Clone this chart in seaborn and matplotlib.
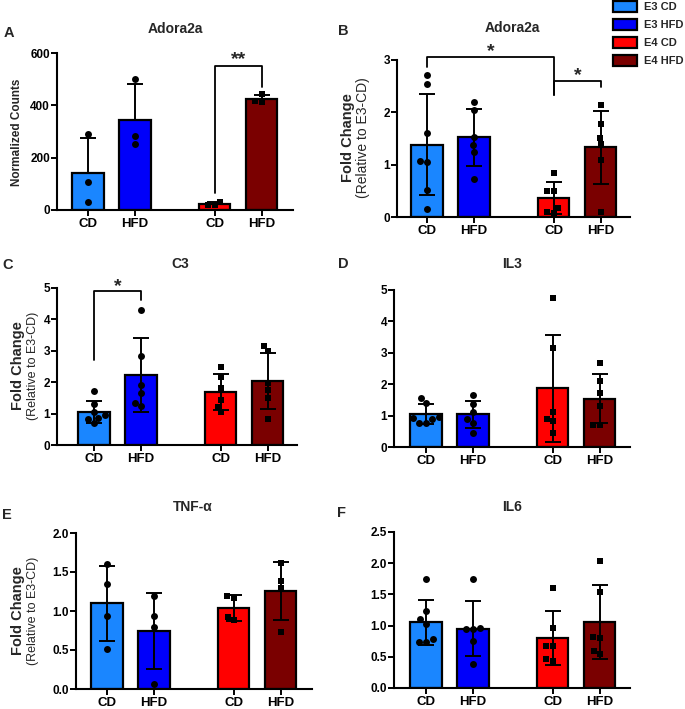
import numpy as np
import pandas as pd
import matplotlib
matplotlib.use("Agg")
import matplotlib.pyplot as plt
import seaborn as sns
from matplotlib.patches import Patch
from matplotlib.ticker import FormatStrFormatter

sns.set_style("ticks")
plt.rcParams["font.family"] = ["Liberation Sans", "DejaVu Sans"]

# ---------------- data ----------------
groups = ["E3 CD", "E3 HFD", "E4 CD", "E4 HFD"]
tick_labels = ["CD", "HFD", "CD", "HFD"]
colors = ["#1A86FF", "#0000FA", "#FF0000", "#7A0000"]

# A: Adora2a, normalized counts
a_e3_cd = [290, 108, 29]
a_e3_hfd = [500, 283, 253]
a_e4_cd = [32, 19, 18]
a_e4_hfd = [442, 418, 414]

# B: Adora2a, fold change
b_e3_cd = [2.71, 2.54, 1.60, 1.055, 1.07, 0.52, 0.16]
b_e3_hfd = [2.19, 2.05, 1.53, 1.38, 1.25, 0.73]
b_e4_cd = [0.85, 0.50, 0.50, 0.18, 0.08, 0.09]
b_e4_hfd = [2.14, 1.77, 1.51, 1.39, 1.09, 0.10]

# C: C3
c_e3_cd = [1.71, 1.31, 0.97, 1.06, 0.69, 0.87, 0.82]
c_e3_hfd = [4.31, 2.84, 1.91, 1.67, 1.24, 1.35]
c_e4_cd = [2.49, 2.17, 1.83, 1.42, 1.22, 1.04]
c_e4_hfd = [3.15, 2.99, 1.96, 1.74, 1.50, 0.82]

# D: IL3
d_e3_cd = [1.56, 1.41, 0.77, 0.93, 0.78, 0.90, 0.95]
d_e3_hfd = [1.65, 1.38, 1.12, 0.90, 0.78, 0.45]
d_e4_cd = [4.76, 3.15, 1.12, 0.90, 0.82, 0.43]
d_e4_hfd = [2.66, 2.09, 1.73, 1.30, 0.71, 0.71]

# E: TNF-alpha
e_e3_cd = [1.60, 1.35, 0.93, 0.51]
e_e3_hfd = [1.19, 0.94, 0.80, 0.06]
e_e4_cd = [1.17, 1.19, 0.88, 0.92]
e_e4_hfd = [1.61, 1.39, 1.29, 0.73]

# F: IL6
f_e3_cd = [1.75, 1.24, 1.10, 1.03, 0.78, 0.73, 0.74]
f_e3_hfd = [1.74, 0.96, 0.95, 0.94, 0.75, 0.38]
f_e4_cd = [1.60, 0.96, 0.68, 0.68, 0.46, 0.43]
f_e4_hfd = [2.03, 1.54, 0.80, 0.82, 0.59, 0.55]

titles = ["Adora2a", "Adora2a", "C3", "IL3", "TNF-\u03b1", "IL6"]
letters = ["A", "B", "C", "D", "E", "F"]
y_ticks_A = [0, 200, 400, 600]
y_ticks_B = [0, 1, 2, 3]
y_ticks_CD = [0, 1, 2, 3, 4, 5]
y_ticks_E = [0.0, 0.5, 1.0, 1.5, 2.0]
y_ticks_F = [0.0, 0.5, 1.0, 1.5, 2.0, 2.5]

# ---------------- layout ----------------
W, H = 685, 709
xpos = [0, 1, 2.7, 3.7]
PXU = 47.0  # pixels per x unit

fig = plt.figure(figsize=(W / 100, H / 100), dpi=100)

def make_ax(axis_x, bar0_x, end_x, ytop, ybot):
    ax = fig.add_axes([axis_x / W, 1 - ybot / H, (end_x - axis_x) / W, (ybot - ytop) / H])
    return ax

panels = [
    dict(data=[a_e3_cd, a_e3_hfd, a_e4_cd, a_e4_hfd], ticks=y_ticks_A, fmt=None,
         geom=(57, 88, 293, 53, 210), up_only=True),
    dict(data=[b_e3_cd, b_e3_hfd, b_e4_cd, b_e4_hfd], ticks=y_ticks_B, fmt=None,
         geom=(397, 427, 630, 60, 217), up_only=False),
    dict(data=[c_e3_cd, c_e3_hfd, c_e4_cd, c_e4_hfd], ticks=y_ticks_CD, fmt=None,
         geom=(57, 94, 297, 288, 445), up_only=False),
    dict(data=[d_e3_cd, d_e3_hfd, d_e4_cd, d_e4_hfd], ticks=y_ticks_CD, fmt=None,
         geom=(394, 426, 630, 290, 447), up_only=False),
    dict(data=[e_e3_cd, e_e3_hfd, e_e4_cd, e_e4_hfd], ticks=y_ticks_E, fmt="%.1f",
         geom=(76, 107, 312, 533, 689), up_only=False),
    dict(data=[f_e3_cd, f_e3_hfd, f_e4_cd, f_e4_hfd], ticks=y_ticks_F, fmt="%.1f",
         geom=(394, 426, 630, 532, 688), up_only=False),
]

palette = dict(zip(groups, colors))
axes = []
for p, title in zip(panels, titles):
    ax = make_ax(*p["geom"])
    axes.append(ax)
    rows = []
    for g, x, vals in zip(groups, xpos, p["data"]):
        for v in vals:
            rows.append(dict(group=g, pos=x, value=v))
    df = pd.DataFrame(rows)
    sns.barplot(data=df, x="pos", y="value", hue="group", palette=palette,
                native_scale=True, dodge=False, errorbar=None, width=0.66,
                saturation=1, edgecolor="black", linewidth=1.6, legend=False,
                ax=ax, zorder=1)
    means = df.groupby("pos")["value"].mean().values
    sds = df.groupby("pos")["value"].std().values
    lower = np.zeros_like(sds) if p["up_only"] else sds
    ax.errorbar(sorted(df["pos"].unique()), means, yerr=[lower, sds], fmt="none",
                ecolor="black", elinewidth=1.4, capsize=6, capthick=1.4, zorder=3)
    e3 = df[df["group"].str.startswith("E3")]
    e4 = df[df["group"].str.startswith("E4")]
    sns.swarmplot(data=e3, x="pos", y="value", native_scale=True, color="black",
                  marker="o", size=5, ax=ax, zorder=4)
    sns.swarmplot(data=e4, x="pos", y="value", native_scale=True, color="black",
                  marker="s", size=4.6, ax=ax, zorder=4)
    axis_x, bar0_x, end_x, ytop, ybot = p["geom"]
    ax.set_xlim((axis_x - bar0_x) / PXU, (end_x - bar0_x) / PXU)
    ax.set_ylim(p["ticks"][0], p["ticks"][-1])
    ax.set_yticks(p["ticks"])
    if p["fmt"]:
        ax.yaxis.set_major_formatter(FormatStrFormatter(p["fmt"]))
    ax.set_xticks(xpos)
    ax.set_xticklabels(tick_labels)
    ax.set_xlabel("")
    ax.set_ylabel("")
    for s in ["top", "right"]:
        ax.spines[s].set_visible(False)
    for s in ["left", "bottom"]:
        ax.spines[s].set_linewidth(1.5)
        ax.spines[s].set_color("black")
    ax.tick_params(axis="y", direction="out", length=4, width=1.4, pad=1,
                   labelsize=8.5, colors="black")
    ax.tick_params(axis="x", direction="out", length=4, width=1.4, pad=1.5,
                   labelsize=9.5, colors="black")
    for lab in ax.get_xticklabels() + ax.get_yticklabels():
        lab.set_fontweight("bold")
    ax.set_facecolor("none")

# titles and panel letters (pixel positions)
title_pos = [(175, 29), (512, 28), (180, 264), (512, 264), (193, 507), (512, 507)]
letter_pos = [(9, 33), (343, 31), (8, 265), (343, 264), (7, 515), (342, 513)]
for t, (x, y) in zip(titles, title_pos):
    fig.text(x / W, 1 - y / H, t, ha="center", va="center", fontsize=10, fontweight="bold")
for l, (x, y) in zip(letters, letter_pos):
    fig.text(x / W, 1 - y / H, l, ha="center", va="center", fontsize=10.5, fontweight="bold")

# y labels
fig.text(17 / W, 1 - 132 / H, "Normalized Counts", rotation=90, ha="center", va="center",
         fontsize=8.5, fontweight="bold")
for (fx, rx, yc, rs) in [(348, 363, 138, 10), (18, 33, 366, 9), (18, 33, 611, 9)]:
    fig.text(fx / W, 1 - yc / H, "Fold Change", rotation=90, ha="center", va="center",
             fontsize=10.5, fontweight="bold")
    fig.text(rx / W, 1 - yc / H, "(Relative to E3-CD)", rotation=90, ha="center",
             va="center", fontsize=rs)

# significance brackets
def bracket(ax, x1, x2, ytop, yl, yr, label, ystar):
    ax.plot([x1, x1, x2, x2], [yl, ytop, ytop, yr], color="black", lw=1.3,
            clip_on=False, zorder=5)
    ax.text((x1 + x2) / 2, ystar, label, ha="center", va="center", fontsize=14,
            fontweight="bold", clip_on=False)

bracket(axes[0], xpos[2], xpos[3], 550, 64, 470, "**", 575)
bracket(axes[1], xpos[0], xpos[2], 3.06, 2.87, 2.33, "*", 3.17)
bracket(axes[1], xpos[2], xpos[3], 2.60, 2.33, 2.48, "*", 2.71)
bracket(axes[2], xpos[0], xpos[1], 4.90, 2.70, 4.62, "*", 5.05)

# legend
handles = [Patch(facecolor=c, edgecolor="black", linewidth=1.6, label=g)
           for g, c in zip(groups, colors)]
fig.legend(handles=handles, loc="upper left", bbox_to_anchor=(613 / W, 1 - 1 / H),
           frameon=False, prop=dict(weight="bold", size=8), handlelength=2.2,
           handleheight=1.1, labelspacing=0.62, handletextpad=0.6,
           borderaxespad=0, borderpad=0)

fig.savefig("out.png", dpi=100, facecolor="white")
